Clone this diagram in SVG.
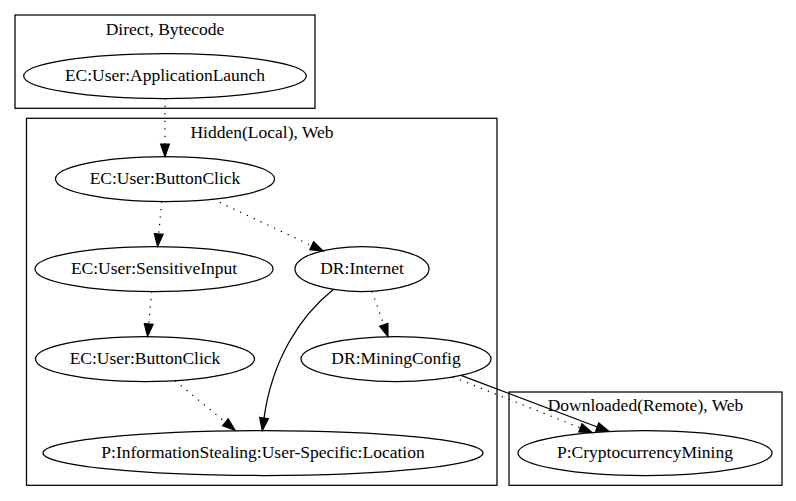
<svg xmlns="http://www.w3.org/2000/svg" width="796" height="501" viewBox="0 0 796 501">
<style>
text{font-family:"Liberation Serif","Times New Roman",serif;font-size:17.5px;text-anchor:middle;fill:#000}
.cl{fill:none;stroke:#000;stroke-width:1.25}
.nd{fill:none;stroke:#000;stroke-width:1.25}
.e{fill:none;stroke:#000;stroke-width:1.25}
.dot{stroke-dasharray:1.25,6.25}
</style>
<defs>
<marker id="ah" markerUnits="userSpaceOnUse" markerWidth="14" markerHeight="10" refX="0" refY="4.375" orient="auto" overflow="visible">
<path d="M0,0 L12.5,4.375 L0,8.75 Z" fill="#000" stroke="#000" stroke-width="1.25"/>
</marker>
</defs>
<rect x="0" y="0" width="796" height="501" fill="#fff"/>
<g id="cluster_direct">
<rect class="cl" x="15" y="15" width="300" height="93.3"/>
<text x="165" y="34.5">Direct, Bytecode</text>
</g>
<g id="cluster_hidden">
<rect class="cl" x="26.5" y="118.3" width="470.5" height="367"/>
<text x="262" y="137.8">Hidden(Local), Web</text>
</g>
<g id="cluster_downloaded">
<rect class="cl" x="509" y="392" width="273" height="93.3"/>
<text x="645.5" y="411.3">Downloaded(Remote), Web</text>
</g>
<g id="edges">
<path class="e dot" d="M165,98.3 L165,144" marker-end="url(#ah)"/>
<path class="e dot" d="M161.7,201.5 L158.7,234" marker-end="url(#ah)"/>
<path class="e dot" d="M213,199.2 L311.7,245.7" marker-end="url(#ah)"/>
<path class="e dot" d="M151.7,291.5 L148.7,324" marker-end="url(#ah)"/>
<path class="e dot" d="M372,291.3 L383.8,324.8" marker-end="url(#ah)"/>
<path class="e" d="M333.3,289.5 C300,316 272,360 264,418.2" marker-end="url(#ah)"/>
<path class="e dot" d="M175,380.6 L225.4,422.3" marker-end="url(#ah)"/>
<path class="e" d="M461,375.4 L597.3,427" marker-end="url(#ah)"/>
<path class="e dot" d="M453,377 L580.4,427.9" marker-end="url(#ah)"/>
</g>
<g id="node_applaunch">
<ellipse class="nd" cx="165" cy="76" rx="141.3" ry="22.5"/>
<text x="165" y="81.25">EC:User:ApplicationLaunch</text>
</g>
<g id="node_buttonclick1">
<ellipse class="nd" cx="165" cy="179" rx="109.5" ry="22.5"/>
<text x="165" y="184.25">EC:User:ButtonClick</text>
</g>
<g id="node_sensitiveinput">
<ellipse class="nd" cx="154" cy="269" rx="119" ry="22.5"/>
<text x="154" y="274.25">EC:User:SensitiveInput</text>
</g>
<g id="node_internet">
<ellipse class="nd" cx="362" cy="269" rx="67" ry="22.5"/>
<text x="362" y="274.25">DR:Internet</text>
</g>
<g id="node_buttonclick2">
<ellipse class="nd" cx="145" cy="359" rx="109.5" ry="22.5"/>
<text x="145" y="364.25">EC:User:ButtonClick</text>
</g>
<g id="node_miningconfig">
<ellipse class="nd" cx="396" cy="359" rx="95" ry="22.5"/>
<text x="396" y="364.25">DR:MiningConfig</text>
</g>
<g id="node_infostealing">
<ellipse class="nd" cx="263" cy="453" rx="220" ry="22.5"/>
<text x="263" y="458.25">P:InformationStealing:User-Specific:Location</text>
</g>
<g id="node_crypto">
<ellipse class="nd" cx="645" cy="453" rx="127" ry="22.5"/>
<text x="645" y="458.25">P:CryptocurrencyMining</text>
</g>
</svg>
